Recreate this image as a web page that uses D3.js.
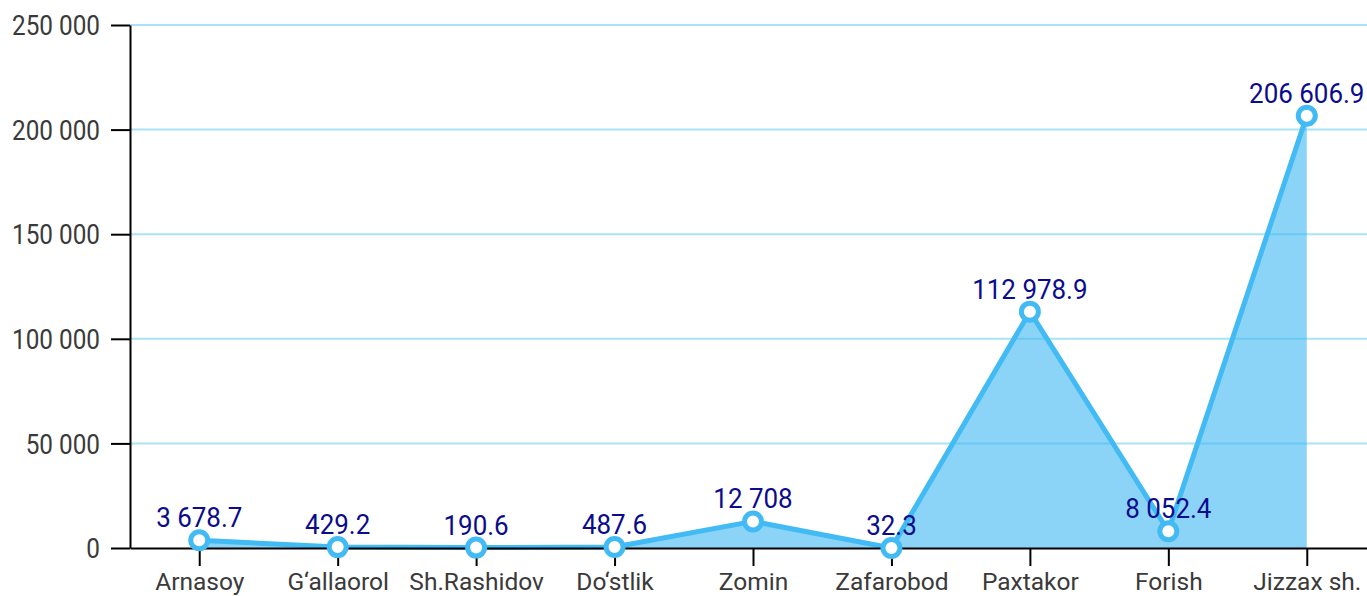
<!DOCTYPE html>
<html>
<head>
<meta charset="utf-8">
<script src="https://cdn.jsdelivr.net/npm/d3@7"></script>
<style>
  body { margin: 0; background: #ffffff; overflow: hidden; }
  svg { display: block; font-family: Roboto, "Noto Sans", sans-serif; }
  .vlabel { fill: #0b0b8e; font-size: 28.5px; }
</style>
</head>
<body>
<div id="chart"></div>
<script>

// data
var categories = ["Arnasoy", "G\u2018allaorol", "Sh.Rashidov", "Do\u2018stlik", "Zomin",
                  "Zafarobod", "Paxtakor", "Forish", "Jizzax sh."];
var values = [3678.7, 429.2, 190.6, 487.6, 12708, 32.3, 112978.9, 8052.4, 206606.9];
var yTicks = [0, 50000, 100000, 150000, 200000, 250000];

var width = 1367;
var height = 596;

var locale = d3.formatLocale({ decimal: ".", thousands: " ", grouping: [3], currency: ["", ""] });
var fmtTick = locale.format(",d");
var fmtVal = locale.format(",~f");

var data = categories.map(function(c, i) { return { name: c, value: values[i] }; });

var svg = d3.select("#chart").append("svg")
  .attr("width", width)
  .attr("height", height);

var x = d3.scalePoint()
  .domain(categories)
  .range([130, 1376])
  .padding(0.5);

var y = d3.scaleLinear()
  .domain([0, 250000])
  .range([548, 25]);

// squeeze text a bit, the original uses a condensed face
function condense(sel, k) {
  sel.each(function() {
    var w = this.getComputedTextLength();
    d3.select(this).attr("textLength", w * k).attr("lengthAdjust", "spacingAndGlyphs");
  });
}

// gridlines
svg.append("g")
  .selectAll("line")
  .data(yTicks.filter(function(d) { return d > 0; }))
  .enter().append("line")
  .attr("x1", 130)
  .attr("x2", width)
  .attr("y1", function(d) { return y(d); })
  .attr("y2", function(d) { return y(d); })
  .style("stroke", "#a9e4f6")
  .style("stroke-width", 2);

// area under the line
var area = d3.area()
  .x(function(d) { return x(d.name); })
  .y0(y(0))
  .y1(function(d) { return y(d.value); });

svg.append("path")
  .datum(data)
  .attr("d", area)
  .style("fill", "#3db8f2")
  .style("fill-opacity", 0.6);

var line = d3.line()
  .x(function(d) { return x(d.name); })
  .y(function(d) { return y(d.value); });

svg.append("path")
  .datum(data)
  .attr("d", line)
  .style("fill", "none")
  .style("stroke", "#42baf3")
  .style("stroke-width", 5)
  .style("stroke-linejoin", "round");

// axes
var xAxis = svg.append("g")
  .attr("transform", "translate(0," + y(0) + ")")
  .call(d3.axisBottom(x).tickSize(18).tickSizeOuter(0));

var yAxis = svg.append("g")
  .attr("transform", "translate(130,0)")
  .call(d3.axisLeft(y).tickValues(yTicks).tickFormat(fmtTick).tickSize(19).tickSizeOuter(0).tickPadding(11));

[xAxis, yAxis].forEach(function(a) {
  a.selectAll("path, line").style("stroke", "#000").style("stroke-width", 2);
  a.selectAll("text").style("font-family", "Roboto, sans-serif").style("fill", "#3a3a3a");
});

xAxis.selectAll("text")
  .attr("y", 42)
  .attr("dy", null)
  .style("font-size", "24.5px");

yAxis.selectAll("text")
  .attr("dy", "0.36em")
  .style("font-size", "27px")
  .call(condense, 0.9);

// markers
svg.append("g")
  .selectAll("circle")
  .data(data)
  .enter().append("circle")
  .attr("cx", function(d) { return x(d.name); })
  .attr("cy", function(d) { return y(d.value); })
  .attr("r", 8.5)
  .style("fill", "#fff")
  .style("stroke", "#42baf3")
  .style("stroke-width", 5);

// value labels
svg.append("g")
  .selectAll("text")
  .data(data)
  .enter().append("text")
  .attr("class", "vlabel")
  .attr("x", function(d) { return x(d.name); })
  .attr("y", function(d) { return y(d.value) - 13; })
  .attr("text-anchor", "middle")
  .text(function(d) { return fmtVal(d.value); })
  .call(condense, 0.91);

</script>
</body>
</html>
